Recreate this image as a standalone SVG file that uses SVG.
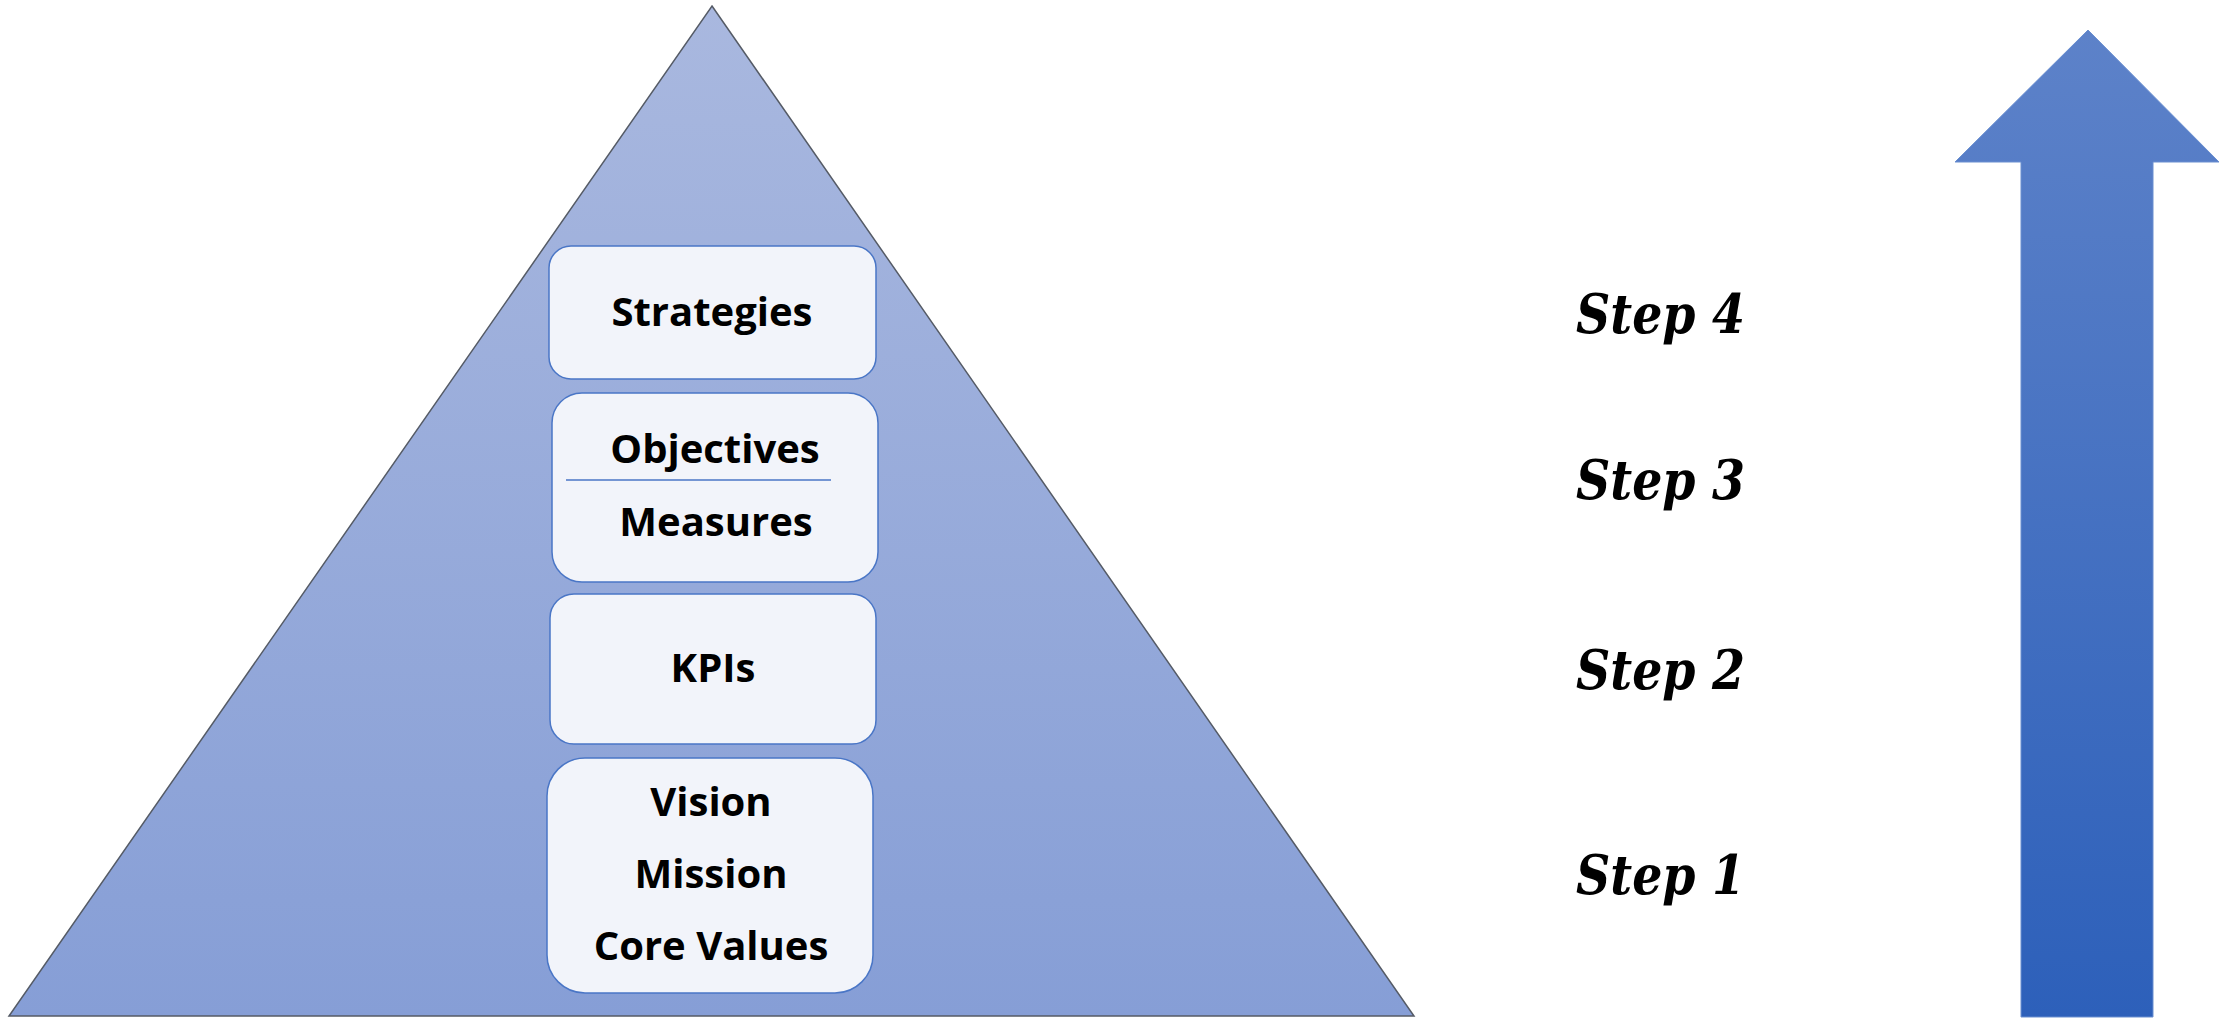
<svg xmlns="http://www.w3.org/2000/svg" width="2229" height="1018" viewBox="0 0 2229 1018">
<defs>
<linearGradient id="tri" x1="0" y1="0" x2="0" y2="1"><stop offset="0" stop-color="#a9b8df"/><stop offset="1" stop-color="#869ed6"/></linearGradient>
<linearGradient id="arr" x1="0" y1="0" x2="0" y2="1"><stop offset="0" stop-color="#5d82c9"/><stop offset="1" stop-color="#2d60ba"/></linearGradient>
<style>
.box{fill:#f2f4fa;stroke:#4a76c6;stroke-width:1.5}
.lbl{font-family:"Open Sans","Noto Sans",sans-serif;font-weight:bold;font-size:40px;fill:#000;text-anchor:middle}
.step{font-family:"DejaVu Serif",serif;font-weight:bold;font-style:italic;font-size:55px;fill:#000}
</style>
</defs>
<rect width="2229" height="1018" fill="#fff"/>
<g id="pyramid"><polygon points="712,6 1414,1016 9,1016" fill="url(#tri)" stroke="#555b66" stroke-width="1.5"/></g>
<g id="arrow"><polygon points="2088,30 2219,162 2153,162 2153,1017 2021,1017 2021,162 1955,162" fill="url(#arr)" stroke="#6a8fd0" stroke-width="1"/></g>
<g id="strategies"><rect class="box" x="549" y="246" width="327" height="133" rx="22"/><text class="lbl" x="712" y="326">Strategies</text></g>
<g id="objectives"><rect class="box" x="552" y="393" width="326" height="189" rx="30"/><text class="lbl" x="715" y="463">Objectives</text><line x1="566" y1="480" x2="831" y2="480" stroke="#4a76c6" stroke-width="1.5"/><text class="lbl" x="716" y="536">Measures</text></g>
<g id="kpis"><rect class="box" x="550" y="594" width="326" height="150" rx="24"/><text class="lbl" x="713" y="682">KPIs</text></g>
<g id="vision"><rect class="box" x="547" y="758" width="326" height="235" rx="38"/><text class="lbl" x="711" y="816">Vision</text><text class="lbl" x="711" y="888">Mission</text><text class="lbl" x="711" y="960">Core Values</text></g>
<g id="steps">
<text class="step" x="1576" y="333" textLength="169" lengthAdjust="spacingAndGlyphs">Step 4</text>
<text class="step" x="1576" y="499" textLength="169" lengthAdjust="spacingAndGlyphs">Step 3</text>
<text class="step" x="1576" y="689" textLength="169" lengthAdjust="spacingAndGlyphs">Step 2</text>
<text class="step" x="1576" y="894" textLength="169" lengthAdjust="spacingAndGlyphs">Step 1</text>
</g>
<g id="connectors"/>
</svg>
